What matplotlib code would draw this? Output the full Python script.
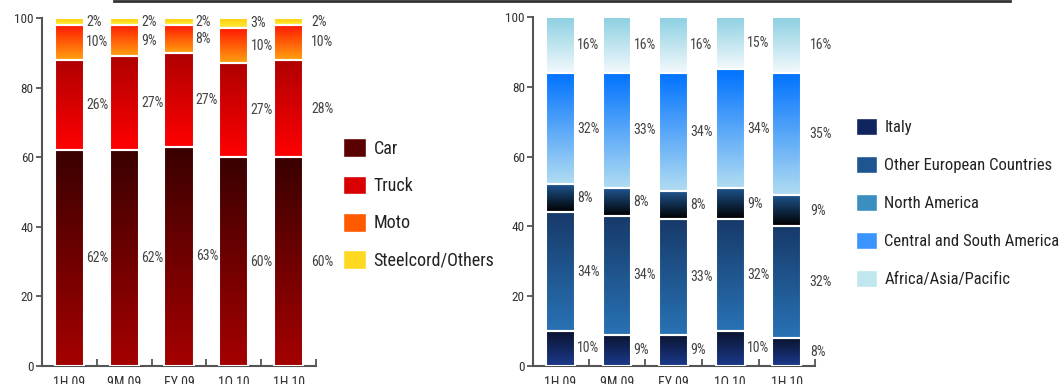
import matplotlib.pyplot as plt
import numpy as np
from matplotlib.colors import LinearSegmentedColormap
from matplotlib.patches import Patch
from matplotlib.lines import Line2D

plt.rcParams['font.family'] = ['Roboto Condensed', 'Liberation Sans Narrow',
                               'Liberation Sans', 'DejaVu Sans']

periods = ["1H 09", "9M 09", "FY 09", "1Q 10", "1H 10"]

# left chart: sales by segment (%)
car = [62, 62, 63, 60, 60]
truck = [26, 27, 27, 27, 28]
moto = [10, 9, 8, 10, 10]
steelcord = [2, 2, 2, 3, 2]
seg_names = ["Car", "Truck", "Moto", "Steelcord/Others"]

# right chart: sales by area (%)
italy = [10, 9, 9, 10, 8]
other_eu = [34, 34, 33, 32, 32]
north_am = [8, 8, 8, 9, 9]
central_sa = [32, 33, 34, 34, 35]
africa_asia = [16, 16, 16, 15, 16]
area_names = ["Italy", "Other European Countries", "North America",
              "Central and South America", "Africa/Asia/Pacific"]

# gradient (bottom, top) for bars, solid colour for legend swatches
seg_grad = [("#a50000", "#3a0000"), ("#ff0000", "#b00000"),
            ("#ffa010", "#ff1a00"), ("#ffee40", "#ffc800")]
seg_leg = ["#5a0000", "#d80000", "#ff5a00", "#ffd820"]
area_grad = [("#1c3a8c", "#0a1430"), ("#2872b4", "#173a6a"),
             ("#000000", "#1f5590"), ("#b0dcf2", "#0072ff"),
             ("#f2f9fc", "#8dd0e2")]
area_leg = ["#102560", "#1e5590", "#3a8ec0", "#3a95ff", "#c0e6f0"]

fig = plt.figure(figsize=(10.6, 3.84), dpi=100)
axL = fig.add_axes([0.0396, 0.047, 0.2585, 0.906])
axR = fig.add_axes([0.503, 0.047, 0.266, 0.909])

grad = np.linspace(0, 1, 64).reshape(-1, 1)


def stacked(ax, series, grads, width, xlim):
    x = np.arange(len(periods))
    bottom = np.zeros(len(periods))
    for vals, (c0, c1) in zip(series, grads):
        cmap = LinearSegmentedColormap.from_list("g", [c0, c1])
        bars = ax.bar(x, vals, width, bottom=bottom, facecolor="none",
                      edgecolor="white", linewidth=1.5, zorder=3)
        for b in bars:
            ax.imshow(grad, extent=[b.get_x(), b.get_x() + b.get_width(),
                                    b.get_y(), b.get_y() + b.get_height()],
                      origin="lower", aspect="auto", cmap=cmap, zorder=2)
        for xi, v, b0 in zip(x, vals, bottom):
            off = 0.15 if xi == x[-1] else 0.04
            ax.text(xi + width / 2 + off, b0 + v / 2, f"{v}%", ha="left",
                    va="center", fontsize=10, color="#444444")
        bottom += np.array(vals)
    ax.set_xlim(*xlim)
    ax.set_ylim(0, 100)
    ax.set_yticks([0, 20, 40, 60, 80, 100])
    ax.set_xticks(x)
    ax.set_xticklabels(periods)
    ax.set_xticks(x + 0.5, minor=True)
    ax.tick_params(axis="x", which="major", length=0, pad=7,
                   labelsize=10, labelcolor="#333333")
    ax.tick_params(axis="x", which="minor", direction="in", length=5,
                   width=1.3, color="#555555")
    ax.tick_params(axis="y", length=4, width=1.3, pad=2, color="#555555",
                   labelsize=9.5, labelcolor="#333333")
    for s in ["top", "right"]:
        ax.spines[s].set_visible(False)
    for s in ["left", "bottom"]:
        ax.spines[s].set_color("#555555")
        ax.spines[s].set_linewidth(1.5)


stacked(axL, [car, truck, moto, steelcord], seg_grad, 0.53, (-0.5, 4.5))
stacked(axR, [italy, other_eu, north_am, central_sa, africa_asia],
        area_grad, 0.51, (-0.48, 4.45))

leg_kw = dict(loc="upper left", frameon=False, borderpad=0, borderaxespad=0,
              handlelength=1.25, handleheight=1.2, handletextpad=0.45,
              labelcolor="#222222")
fig.legend(handles=[Patch(facecolor=c, edgecolor="white") for c in seg_leg],
           labels=seg_names, bbox_to_anchor=(0.3236, 0.640), fontsize=13,
           labelspacing=1.0, **leg_kw)
fig.legend(handles=[Patch(facecolor=c, edgecolor="white") for c in area_leg],
           labels=area_names, bbox_to_anchor=(0.8075, 0.693), fontsize=12,
           labelspacing=1.25, **leg_kw)

fig.add_artist(Line2D([0.108, 0.953], [0.997, 0.997], transform=fig.transFigure,
                      color="#333333", linewidth=2))

fig.savefig("out.png", dpi=100)
